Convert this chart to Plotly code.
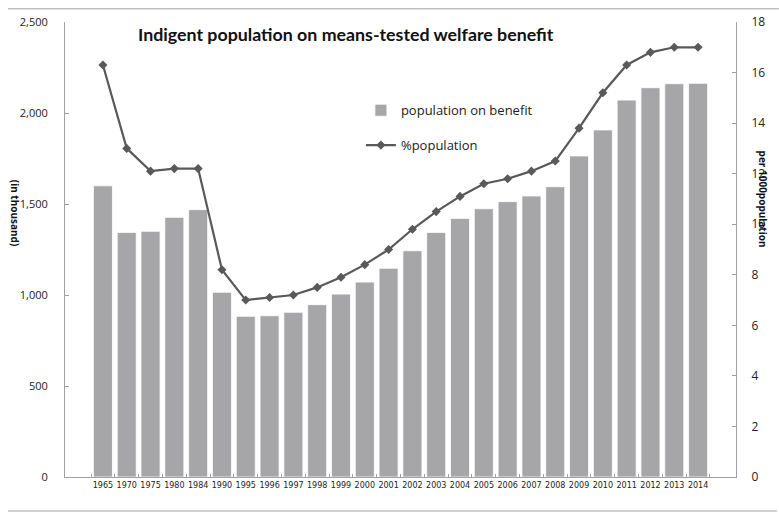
import plotly.graph_objects as go

years = ["1965", "1970", "1975", "1980", "1984", "1990", "1995", "1996", "1997", "1998",
         "1999", "2000", "2001", "2002", "2003", "2004", "2005", "2006", "2007", "2008",
         "2009", "2010", "2011", "2012", "2013", "2014"]
population_on_benefit = [1600, 1344, 1350, 1427, 1469, 1015, 883, 886, 905, 947,
                         1005, 1071, 1147, 1243, 1344, 1421, 1474, 1513, 1544, 1595,
                         1764, 1907, 2071, 2139, 2161, 2163]
pct_population = [16.3, 13.0, 12.1, 12.2, 12.2, 8.2, 7.0, 7.1, 7.2, 7.5,
                  7.9, 8.4, 9.0, 9.8, 10.5, 11.1, 11.6, 11.8, 12.1, 12.5,
                  13.8, 15.2, 16.3, 16.8, 17.0, 17.0]
left_ticks = [0, 500, 1000, 1500, 2000, 2500]
right_ticks = [0, 2, 4, 6, 8, 10, 12, 14, 16, 18]

fig = go.Figure()
fig.add_trace(go.Bar(
    x=years, y=population_on_benefit, name="population on benefit",
    marker=dict(color="#a6a6a9", line=dict(color="#ffffff", width=0.8)),
    legendgroup="a",
))
fig.add_trace(go.Scatter(
    x=years, y=pct_population, name="%population", yaxis="y2",
    mode="lines+markers",
    line=dict(color="#595959", width=2.2),
    marker=dict(symbol="diamond", size=7, color="#595959"),
    legendgroup="b",
))

fig.update_layout(
    width=779, height=517,
    margin=dict(l=65, r=43, t=22, b=40),
    paper_bgcolor="white", plot_bgcolor="white",
    bargap=0.2,
    font=dict(family="Open Sans, sans-serif", size=11, color="#222"),
    showlegend=True,
    legend=dict(x=0.441, y=0.839, xanchor="left", yanchor="top",
                bgcolor="rgba(0,0,0,0)", tracegroupgap=15,
                font=dict(size=13, family="Open Sans, sans-serif", color="#222"),
                itemwidth=30),
    xaxis=dict(
        type="category", showline=True, linecolor="#a0a0a0", linewidth=1,
        ticks="inside", ticklen=3, tickcolor="#a0a0a0", tickson="boundaries",
        tickangle=0,
        tickfont=dict(family="DejaVu Sans, sans-serif", size=8, color="#222"),
        showgrid=False,
    ),
    yaxis=dict(
        range=[0, 2500], tickvals=left_ticks, tickformat=",d",
        showline=True, linecolor="#a0a0a0", linewidth=1,
        ticks="inside", ticklen=4, tickcolor="#a0a0a0",
        showgrid=False, zeroline=False, ticklabelstandoff=14,
        tickfont=dict(size=11, family="Open Sans, sans-serif", color="#222"),
    ),
    yaxis2=dict(
        range=[0, 18], tickvals=right_ticks, overlaying="y", side="right",
        showline=True, linecolor="#a0a0a0", linewidth=1,
        ticks="inside", ticklen=4, tickcolor="#a0a0a0",
        showgrid=False, zeroline=False, ticklabelstandoff=12,
        tickfont=dict(size=12, family="Open Sans, sans-serif", color="#222"),
    ),
    annotations=[
        dict(text="<b>Indigent population on means-tested welfare benefit</b>",
             xref="paper", yref="paper", x=0.106, y=1.0, xanchor="left", yanchor="middle",
             yshift=-12, showarrow=False,
             font=dict(family="Lato, sans-serif", size=17.8, color="#111")),
        dict(text="<b>(in thousand)</b>", xref="paper", yref="paper",
             x=-0.074, y=0.58, xanchor="center", yanchor="middle",
             textangle=90, showarrow=False,
             font=dict(size=10, family="Open Sans, sans-serif", color="#111")),
        dict(text="<b>per 1000population</b>", xref="paper", yref="paper",
             x=1.04, y=0.61, xanchor="center", yanchor="middle",
             textangle=90, showarrow=False,
             font=dict(size=10, family="Open Sans, sans-serif", color="#111")),
    ],
    shapes=[
        dict(type="line", xref="paper", yref="paper", x0=-0.085, x1=1.064,
             y0=1.029, y1=1.029, line=dict(color="#c0c0c0", width=1.5)),
        dict(type="line", xref="paper", yref="paper", x0=-0.085, x1=1.061,
             y0=-0.0747, y1=-0.0747, line=dict(color="#c0c0c0", width=1.5)),
    ],
)

fig.write_html("out.html", config={"displayModeBar": False},
               post_script="document.body.style.margin='0';document.body.style.overflow='hidden';")
